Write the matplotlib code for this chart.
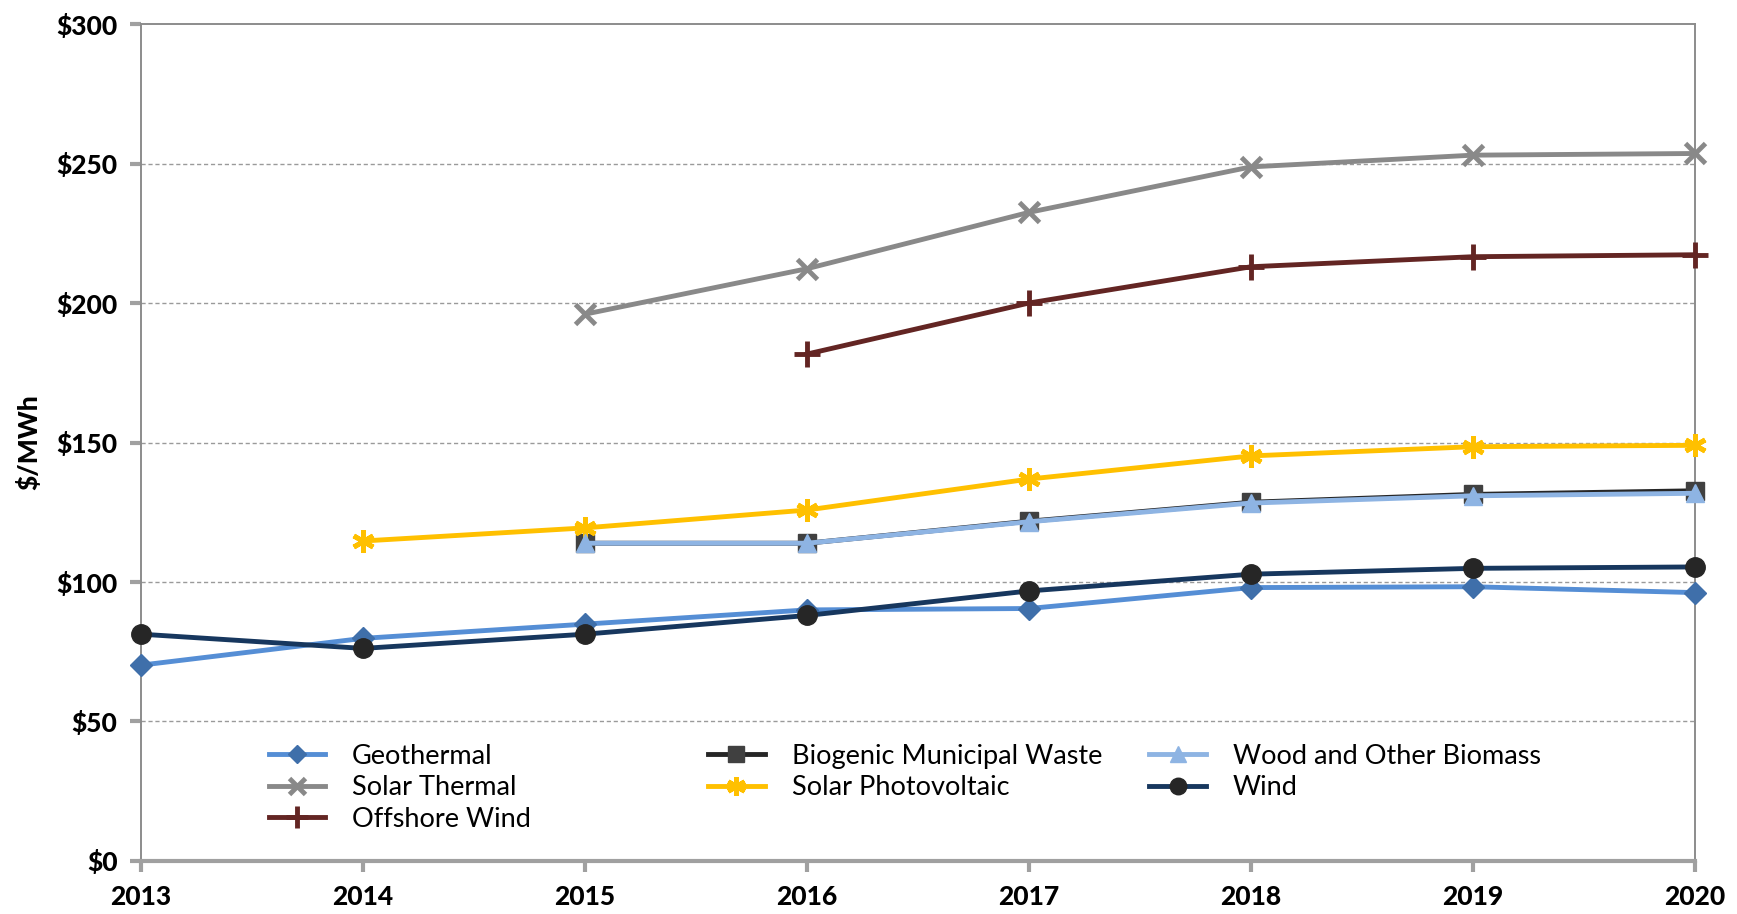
import numpy as np
import matplotlib
matplotlib.use("Agg")
import matplotlib.pyplot as plt

plt.rcParams["font.family"] = ["Lato", "DejaVu Sans"]

# levelized cost by technology, $/MWh (NaN = not reported that year)
years = [2013, 2014, 2015, 2016, 2017, 2018, 2019, 2020]
nan = np.nan
geothermal = [70.2, 79.8, 84.9, 90.0, 90.5, 98.0, 98.3, 96.2]
biogenic = [nan, nan, 113.9, 113.9, 121.8, 128.6, 131.4, 132.7]
wood = [nan, nan, 113.9, 113.9, 121.6, 128.3, 130.9, 131.8]
solar_thermal = [nan, nan, 196.0, 212.3, 232.5, 248.8, 253.0, 253.6]
solar_pv = [nan, 114.7, 119.4, 125.8, 136.9, 145.2, 148.5, 149.0]
wind = [81.3, 76.2, 81.3, 88.0, 96.8, 102.8, 104.9, 105.4]
offshore = [nan, nan, nan, 181.7, 200.0, 213.0, 216.6, 217.3]

y_ticks = [0, 50, 100, 150, 200, 250, 300]
y_labels = ["$0", "$50", "$100", "$150", "$200", "$250", "$300"]

asterisk = (6, 2, 0)

# label, data, line colour, marker, marker face, marker edge, size, edge width
series = [
    ("Geothermal", geothermal, "#558ED5", "D", "#3F6FAA", "#3F6FAA", 11, 1),
    ("Solar Thermal", solar_thermal, "#898989", "x", "#898989", "#898989", 14, 3.5),
    ("Offshore Wind", offshore, "#632523", "+", "#632523", "#632523", 19, 3.5),
    ("Biogenic Municipal Waste", biogenic, "#262626", "s", "#404040", "#404040", 13, 1),
    ("Solar Photovoltaic", solar_pv, "#FFC000", asterisk, "#FFC000", "#FFC000", 16, 3.5),
    ("Wood and Other Biomass", wood, "#8EB4E3", "^", "#8EB4E3", "#8EB4E3", 13, 1),
    ("Wind", wind, "#17375E", "o", "#262626", "#262626", 14, 1),
]

fig = plt.figure(figsize=(17.37, 9.14), dpi=100)
ax = fig.add_axes([0.0812, 0.058, 0.8946, 0.9157])

handles = []
for label, vals, col, mk, mfc, mec, ms, mew in series:
    ln, = ax.plot(years, vals, color=col, lw=3.5, marker=mk, markersize=ms,
                  markerfacecolor=mfc, markeredgecolor=mec, markeredgewidth=mew,
                  clip_on=False, zorder=3, label=label)
    handles.append(ln)

ax.set_xlim(2013, 2020)
ax.set_ylim(0, 300)
ax.set_xticks(years)
ax.set_xticklabels([str(y) for y in years], fontsize=19, fontweight="black")
ax.set_yticks(y_ticks)
ax.set_yticklabels(y_labels, fontsize=19, fontweight="black")
ax.set_ylabel("$/MWh", fontsize=19, fontweight="black", labelpad=11)

for y in [50, 100, 150, 200, 250]:
    ax.axhline(y, color="#9A9A9A", lw=1.0, ls=(0, (3, 2)), zorder=1)

for side in ["left", "right", "top"]:
    ax.spines[side].set_color("#8C8C8C")
    ax.spines[side].set_linewidth(1.4)
ax.spines["bottom"].set_color("#A0A0A0")
ax.spines["bottom"].set_linewidth(3)
ax.tick_params(axis="y", length=8, width=3, color="#A0A0A0", pad=9)
ax.tick_params(axis="x", length=8, width=3, color="#A0A0A0", pad=9)

# three-column legend, each column placed on its own
cols = [(handles[0:3], 0.1485), (handles[3:5], 0.4015), (handles[5:7], 0.6555)]
for hs, x0 in cols:
    leg = fig.legend(handles=hs, loc="upper left", bbox_to_anchor=(x0, 0.198),
                     frameon=False, fontsize=19.5, handlelength=2.08,
                     handletextpad=1.0, labelspacing=0.24, borderaxespad=0)
    for lh in leg.legend_handles:
        lh.set_markersize(lh.get_markersize() * 0.85)

fig.savefig("out.png", dpi=100)
